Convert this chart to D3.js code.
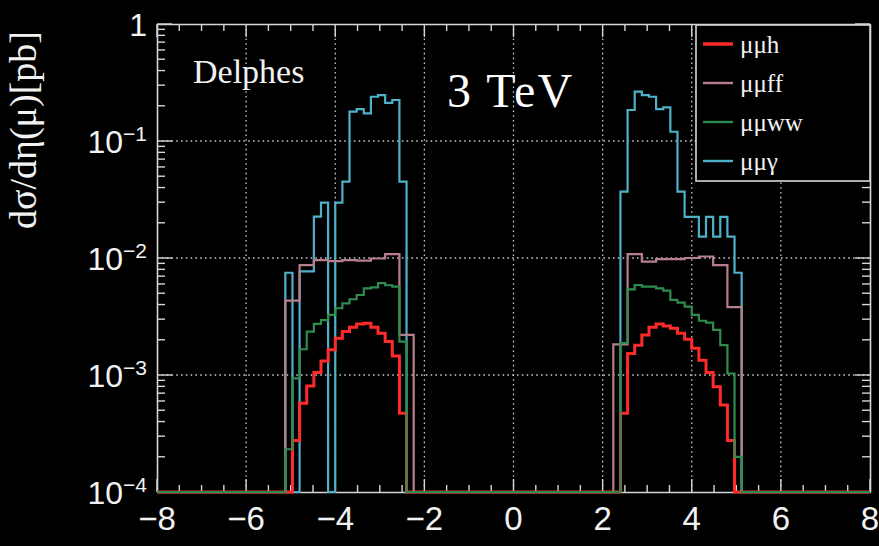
<!DOCTYPE html>
<html>
<head>
<meta charset="utf-8">
<script src="https://cdn.jsdelivr.net/npm/d3@7"></script>
<style>
  html, body { margin: 0; background: #000; }
  svg { display: block; }
</style>
</head>
<body>
<script>
// ---- data -------------------------------------------------------------
const etaRange = [-8, 8];
const yRange = [1e-4, 1];
const fineWidth = 0.16;    // 100 bins over [-8, 8]
const coarseWidth = 0.32;  // 50 bins over [-8, 8]

const xTicks = [-8, -6, -4, -2, 0, 2, 4, 6, 8];
const xTickLabels = ["−8", "−6", "−4", "−2", "0", "2", "4", "6", "8"];
const yTicks = [1e-4, 1e-3, 1e-2, 1e-1, 1];
const yTickBase = ["10", "10", "10", "10", "1"];
const yTickExp = ["−4", "−3", "−2", "−1", ""];

const seriesNames = ["μμh", "μμff", "μμww", "μμγ"];
const seriesColors = ["#ff2b2b", "#b67f8b", "#2f8c50", "#4fb1c9"];
const seriesWidths = [3, 2.2, 2.2, 2.2];

// each cluster: [low edge of first filled bin, bin contents in pb]
const mumuh = [
  [-4.96, [2.75e-4, 5.73e-4, 8.05e-4, 1.05e-3, 1.32e-3, 1.64e-3, 2.06e-3, 2.35e-3,
           2.56e-3, 2.73e-3, 2.77e-3, 2.56e-3, 2.27e-3, 1.93e-3, 1.45e-3, 4.71e-4]],
  [2.40,  [4.71e-4, 1.53e-3, 1.80e-3, 2.20e-3, 2.56e-3, 2.73e-3, 2.62e-3, 2.51e-3,
           2.27e-3, 2.02e-3, 1.69e-3, 1.34e-3, 1.05e-3, 7.94e-4, 5.54e-4, 2.75e-4]]
];
const mumuff = [
  [-5.12, [4.32e-3, 8.7e-3, 9.6e-3, 9.4e-3, 9.6e-3, 9.5e-3, 9.9e-3, 1.08e-2, 2.2e-3]],
  [2.24,  [1.83e-3, 1.08e-2, 9.3e-3, 9.8e-3, 9.8e-3, 1.0e-2, 1.03e-2, 8.7e-3, 3.8e-3]]
];
const mumuww = [
  [-5.12, [2.32e-4, 9.37e-4, 1.66e-3, 2.35e-3, 2.73e-3, 2.95e-3, 3.26e-3, 3.72e-3, 4.10e-3,
           4.44e-3, 4.83e-3, 5.51e-3, 5.6e-3, 6.1e-3, 5.85e-3, 5.7e-3, 1.93e-3]],
  [2.40,  [1.87e-3, 5.40e-3, 5.88e-3, 5.69e-3, 5.69e-3, 5.51e-3, 5.26e-3, 4.38e-3, 4.15e-3,
           3.84e-3, 3.26e-3, 2.91e-3, 2.80e-3, 2.43e-3, 1.80e-3, 1.03e-3, 2.0e-4]]
];
const mumugamma = [
  [-5.12, [7.48e-3, 0, 7.7e-3, 7.7e-3, 2.26e-2, 2.97e-2, 0, 2.97e-2, 4.49e-2,
           0.178, 0.187, 0.1725, 0.239, 0.247, 0.212, 0.224, 4.49e-2]],
  [2.40,  [3.69e-2, 0.184, 0.264, 0.247, 0.239, 0.187, 0.194, 0.120, 3.69e-2,
           2.25e-2, 2.25e-2, 1.52e-2, 2.25e-2, 1.52e-2, 2.25e-2, 1.52e-2, 7.48e-3]]
];
const seriesClusters = [mumuh, mumuff, mumuww, mumugamma];
const seriesBinWidths = [fineWidth, coarseWidth, fineWidth, fineWidth];

// ---- layout -----------------------------------------------------------
const W = 879, H = 546;
const frame = { left: 157, right: 870, top: 24, bottom: 492 };
const serif = "'Liberation Serif', 'DejaVu Serif', serif";
const sans = "'Liberation Sans', Arial, sans-serif";
const fg = "#f2f2f2";
const frameColor = "#d6d6d6";

const svg = d3.select("body").append("svg")
  .attr("width", W).attr("height", H)
  .style("background", "#000");

const x = d3.scaleLinear().domain(etaRange).range([frame.left, frame.right]);
const y = d3.scaleLog().domain(yRange).range([frame.bottom, frame.top]);

// grid
const grid = svg.append("g")
  .attr("stroke", "#c8c8c8").attr("stroke-width", 1.3)
  .attr("stroke-dasharray", "1.6 3.2");
grid.selectAll("line.gx").data(xTicks.slice(1, -1)).join("line")
  .attr("x1", d => x(d)).attr("x2", d => x(d))
  .attr("y1", frame.top).attr("y2", frame.bottom);
grid.selectAll("line.gy").data(yTicks.slice(1, -1)).join("line")
  .attr("y1", d => y(d)).attr("y2", d => y(d))
  .attr("x1", frame.left).attr("x2", frame.right);

// axes with inward ticks on all four sides
const minorX = d3.range(etaRange[0], etaRange[1] + 0.001, 0.5).filter(v => Math.abs(v % 2) > 1e-6);
const minorY = [];
for (let e = -4; e < 0; e++) for (let m = 2; m <= 9; m++) minorY.push(m * Math.pow(10, e));

function drawXAxis(pos, dir) {
  const g = svg.append("g").attr("transform", `translate(0,${pos})`);
  const ax = d3.axisBottom(x).tickValues(xTicks).tickSize(0).tickFormat("");
  g.call(ax);
  g.select(".domain").attr("stroke", frameColor).attr("stroke-width", 1.6);
  g.selectAll("line.maj").data(xTicks).join("line").attr("class", "maj")
    .attr("x1", d => x(d)).attr("x2", d => x(d)).attr("y1", 0).attr("y2", dir * 13)
    .attr("stroke", frameColor).attr("stroke-width", 1.4);
  g.selectAll("line.min").data(minorX).join("line").attr("class", "min")
    .attr("x1", d => x(d)).attr("x2", d => x(d)).attr("y1", 0).attr("y2", dir * 7)
    .attr("stroke", frameColor).attr("stroke-width", 1.4);
  return g;
}
function drawYAxis(pos, dir) {
  const g = svg.append("g").attr("transform", `translate(${pos},0)`);
  const ax = d3.axisLeft(y).tickValues(yTicks).tickSize(0).tickFormat("");
  g.call(ax);
  g.select(".domain").attr("stroke", frameColor).attr("stroke-width", 1.6);
  g.selectAll("line.maj").data(yTicks).join("line").attr("class", "maj")
    .attr("y1", d => y(d)).attr("y2", d => y(d)).attr("x1", 0).attr("x2", dir * 15)
    .attr("stroke", frameColor).attr("stroke-width", 1.4);
  g.selectAll("line.min").data(minorY).join("line").attr("class", "min")
    .attr("y1", d => y(d)).attr("y2", d => y(d)).attr("x1", 0).attr("x2", dir * 8)
    .attr("stroke", frameColor).attr("stroke-width", 1.4);
  return g;
}
drawXAxis(frame.bottom, -1);
drawXAxis(frame.top, 1);
drawYAxis(frame.left, 1);
drawYAxis(frame.right, -1);

// x tick labels
svg.append("g").selectAll("text").data(xTicks).join("text")
  .attr("x", d => x(d)).attr("y", 530)
  .attr("text-anchor", "middle")
  .attr("font-family", sans).attr("font-size", 33).attr("fill", fg)
  .text((d, i) => xTickLabels[i]);

// y tick labels (10 with superscript exponent)
const yl = svg.append("g").selectAll("text").data(yTicks).join("text")
  .attr("x", 147).attr("y", d => y(d) + 12)
  .attr("text-anchor", "end")
  .attr("font-family", sans).attr("fill", fg);
yl.append("tspan").attr("font-size", 32).text((d, i) => yTickBase[i]);
yl.append("tspan").attr("font-size", 21).attr("dy", -12).text((d, i) => yTickExp[i]);

// y axis title
svg.append("text")
  .attr("transform", "translate(36,130) rotate(-90)")
  .attr("text-anchor", "middle")
  .attr("font-family", serif).attr("font-size", 38).attr("fill", fg)
  .text("dσ/dη(μ)[pb]");

// histograms
function fullBins(clusters, w) {
  const n = Math.round((etaRange[1] - etaRange[0]) / w);
  const vals = new Array(n).fill(0);
  clusters.forEach(([lo, arr]) => {
    const i0 = Math.round((lo - etaRange[0]) / w);
    arr.forEach((v, k) => { vals[i0 + k] = v; });
  });
  return vals.map((v, i) => ({ lo: etaRange[0] + i * w, hi: etaRange[0] + (i + 1) * w, v }));
}
const stepLine = d3.line()
  .x(d => x(d[0]))
  .y(d => y(Math.max(d[1], yRange[0])));
function stepPoints(bins) {
  const pts = [];
  bins.forEach(b => { pts.push([b.lo, b.v]); pts.push([b.hi, b.v]); });
  return pts;
}
const drawOrder = [3, 0, 1, 2];
const hg = svg.append("g");
drawOrder.forEach(si => {
  const bins = fullBins(seriesClusters[si], seriesBinWidths[si]);
  hg.append("path")
    .attr("d", stepLine(stepPoints(bins)))
    .attr("fill", "none")
    .attr("stroke", seriesColors[si])
    .attr("stroke-width", seriesWidths[si])
    .attr("stroke-linejoin", "miter");
});

// labels inside the frame
svg.append("text").attr("x", 193).attr("y", 83)
  .attr("font-family", serif).attr("font-size", 34).attr("fill", fg)
  .text("Delphes");
svg.append("text").attr("x", 447).attr("y", 107)
  .attr("font-family", serif).attr("font-size", 48).attr("fill", "#fff")
  .attr("letter-spacing", 2)
  .text("3 TeV");

// legend
const lg = svg.append("g");
lg.append("rect").attr("x", 696).attr("y", 25).attr("width", 174).attr("height", 156)
  .attr("fill", "#000").attr("stroke", frameColor).attr("stroke-width", 1.6);
const entryY = d3.scalePoint().domain(seriesNames).range([44, 161]);
const entries = lg.selectAll("g.e").data(seriesNames).join("g").attr("class", "e")
  .attr("transform", d => `translate(0,${entryY(d)})`);
entries.append("line").attr("x1", 703).attr("x2", 733).attr("y1", 0).attr("y2", 0)
  .attr("stroke", (d, i) => seriesColors[i])
  .attr("stroke-width", (d, i) => i === 0 ? 3.4 : 2.4);
entries.append("text").attr("x", 740).attr("y", 9)
  .attr("font-family", serif).attr("font-size", 25).attr("fill", fg)
  .text(d => d);
</script>
</body>
</html>
